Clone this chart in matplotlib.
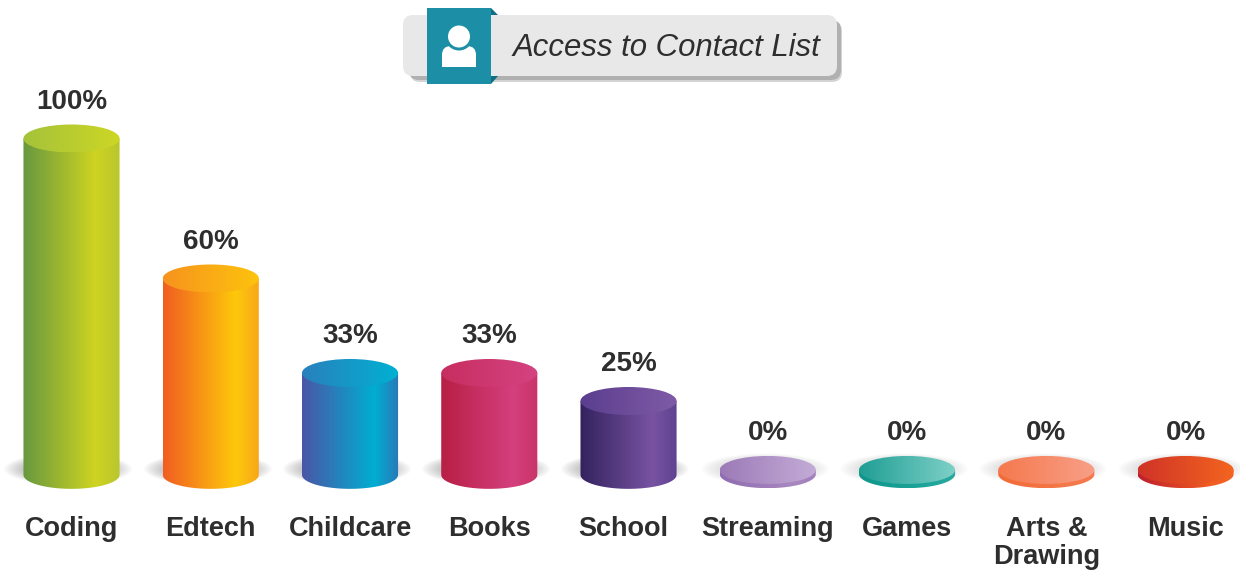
import numpy as np
import matplotlib
matplotlib.use('Agg')
import matplotlib.pyplot as plt
from matplotlib.colors import LinearSegmentedColormap
from matplotlib.patches import Circle, Ellipse, FancyBboxPatch, PathPatch, Polygon, Rectangle
from matplotlib.path import Path

plt.rcParams['font.family'] = ['Liberation Sans', 'DejaVu Sans']

title = 'Access to Contact List'
categories = ['Coding', 'Edtech', 'Childcare', 'Books', 'School',
              'Streaming', 'Games', 'Arts &\nDrawing', 'Music']
values = [100, 60, 33, 33, 25, 0, 0, 0, 0]

body_colors = [
    ['#67983f', '#cfd421', '#b9c62e'],
    ['#f15d22', '#fdc90a', '#f9a51b'],
    ['#4a56a6', '#00aed1', '#2a78b8'],
    ['#b81f45', '#d43f7e', '#c93468'],
    ['#33225e', '#7853a2', '#5e4390'],
    ['#8f6cb0', '#a987c0', '#a07fbb'],
    ['#0f968c', '#1fa79c', '#2aa79d'],
    ['#f26a36', '#f47a4b', '#f4784a'],
    ['#be1e2d', '#f15d22', '#f26522'],
]
top_colors = [
    ['#a5c23a', '#cdd725'],
    ['#f7931e', '#fdc40d'],
    ['#2a80bc', '#00b1d2'],
    ['#c72e60', '#d44381'],
    ['#5b3e8f', '#7f5ba6'],
    ['#9d7ab7', '#c3acd7'],
    ['#1f9e94', '#7fd0c8'],
    ['#f5794e', '#f89f87'],
    ['#cf3327', '#f4651f'],
]
text_color = '#2e2e2e'

half_w = 0.345      # cylinder half width, in category units
half_h = 4.0        # ellipse half height, in percent units
floor = 5.3         # flat disc level for the 0% bars
base = 3.9          # centre of the bottom ellipse

fig = plt.figure(figsize=(12.4, 5.72), dpi=100)
ax = fig.add_axes([0, 0, 1, 1])
xlim = (-0.5135, 8.391)
ylim = (-23.86, 139.57)


def fill(colors, x0, x1, y0, y1, clip, stops=None, z=2):
    cmap = LinearSegmentedColormap.from_list('g', list(zip(stops, colors)) if stops else colors)
    grad = np.linspace(0, 1, 256)[None, :]
    im = ax.imshow(grad, cmap=cmap, extent=[x0, x1, y0, y1], aspect='auto',
                   interpolation='bilinear', zorder=z)
    clip.set_transform(ax.transData)
    im.set_clip_path(clip)


shadow_x, shadow_y = np.meshgrid(np.linspace(-1, 1, 200), np.linspace(-1, 1, 80))
shadow_r = np.clip(shadow_x**2 + shadow_y**2, 0, 1)
shadow = np.zeros(shadow_r.shape + (4,))
shadow[..., :3] = 0.3
shadow[..., 3] = 0.6 * (1 - shadow_r)

t = np.linspace(np.pi, 2 * np.pi, 80)
for i, v in enumerate(values):
    x0, x1 = i - half_w, i + half_w
    top = max(v, floor)
    is_disc = v == 0
    sh = shadow.copy()
    sh[..., 3] *= 0.5 if is_disc else 1
    ax.imshow(sh, extent=[i - 0.49, i + 0.44, 1, 10.1], aspect='auto', zorder=1)

    # side of the cylinder: straight edges plus the lower half of the bottom ellipse
    level = floor - 1.2 if is_disc else base
    arc_x = i + half_w * np.cos(t)
    arc_y = level + half_h * np.sin(t)
    side = np.column_stack([np.r_[x0, arc_x, x1], np.r_[top, arc_y, top]])
    body = PathPatch(Path(np.vstack([side, side[0]]), closed=True), fc='none', ec='none')
    ax.add_patch(body)
    fill(body_colors[i], x0, x1, level - half_h, top, body, stops=[0, 0.75, 1], z=2)

    cap = Ellipse((i, top), 2 * half_w, 2 * half_h, fc='none', ec='none')
    ax.add_patch(cap)
    fill(top_colors[i], x0, x1, top - half_h, top + half_h, cap, z=3)

    ax.text(i, top + 10.5, f'{v}%', ha='center', va='center', fontsize=20,
            fontweight='bold', color=text_color, zorder=5)
    label_x = i - 0.04 if categories[i] == 'School' else i
    ax.text(label_x, -7.75, categories[i], ha='center', va='top', fontsize=19.5,
            fontweight='bold', color=text_color, linespacing=1.13, zorder=5)

ax.set_xlim(xlim)
ax.set_ylim(ylim)
ax.axis('off')

# title badge, drawn in pixel coordinates
badge = fig.add_axes([0, 0, 1, 1])
badge.set_xlim(0, 1240)
badge.set_ylim(572, 0)
badge.axis('off')
badge.patch.set_alpha(0)

badge.add_patch(FancyBboxPatch((410, 21), 432, 61, boxstyle='round,pad=0,rounding_size=10',
                               fc='#d4d4d4', ec='none'))
badge.add_patch(FancyBboxPatch((409, 20), 432, 60, boxstyle='round,pad=0,rounding_size=10',
                               fc='#b0b0b0', ec='none'))
badge.add_patch(FancyBboxPatch((403, 15), 434, 61, boxstyle='round,pad=0,rounding_size=10',
                               fc='#e8e8e8', ec='none'))
badge.add_patch(Polygon([(491, 8), (498, 15), (491, 15)], fc='#0e6f82', ec='none'))
badge.add_patch(Polygon([(491, 76), (498, 76), (491, 84)], fc='#0e6f82', ec='none'))
badge.add_patch(Rectangle((427, 8), 64, 76, fc='#1c8fa6', ec='none'))
badge.add_patch(FancyBboxPatch((442, 46), 34, 21, boxstyle='round,pad=0,rounding_size=9',
                               fc='white', ec='none'))
badge.add_patch(Rectangle((442, 56), 34, 11, fc='white', ec='none'))
badge.add_patch(Circle((459, 36.5), 14, fc='#1c8fa6', ec='none'))
badge.add_patch(Circle((459, 36.5), 11, fc='white', ec='none'))
badge.text(513, 48, title, ha='left', va='center', fontsize=22.4, style='italic', color=text_color)

fig.savefig('out.png', dpi=100)
